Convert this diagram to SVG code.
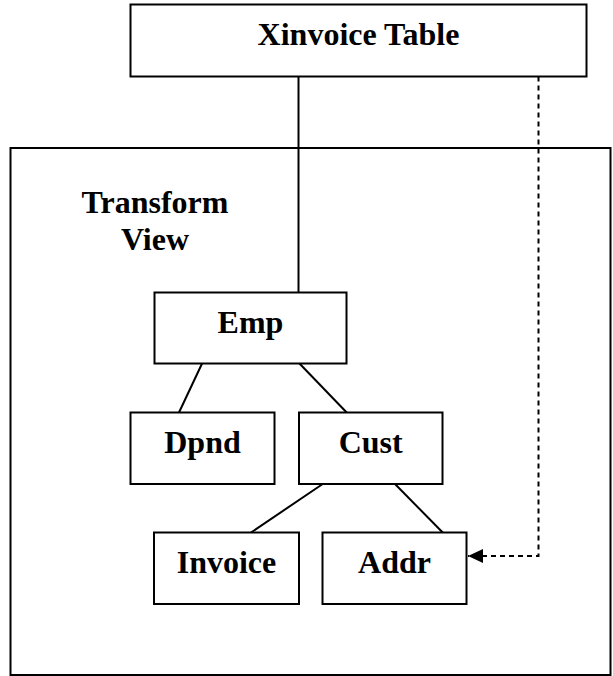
<svg xmlns="http://www.w3.org/2000/svg" width="613" height="676" viewBox="0 0 613 676">
<style>
.box{fill:#fff;stroke:#000;stroke-width:2}
.frame{fill:none;stroke:#000;stroke-width:2}
.lbl{font-family:"Liberation Serif","Times New Roman",serif;font-weight:bold;font-size:32px;fill:#000;text-anchor:middle}
.conn{stroke:#000;stroke-width:2;fill:none}
.dash{stroke:#000;stroke-width:2;fill:none;stroke-dasharray:5,4}
</style>
<defs>
<marker id="arr" markerUnits="userSpaceOnUse" markerWidth="16" markerHeight="14" refX="15" refY="7" orient="auto">
<path d="M0,0 L15,7 L0,14 Z" fill="#000"/>
</marker>
</defs>
<g id="transform-view">
<rect class="frame" x="10.5" y="148" width="600" height="527"/>
<text class="lbl" x="155" y="212.5">Transform</text>
<text class="lbl" x="155" y="249.5">View</text>
</g>
<g id="xinvoice">
<rect class="box" x="130.5" y="4.5" width="456" height="72"/>
<text class="lbl" x="358.5" y="45">Xinvoice Table</text>
</g>
<g id="connectors">
<line class="conn" x1="298.5" y1="76.5" x2="298.5" y2="292.5"/>
<line class="conn" x1="202.3" y1="363" x2="179" y2="412.5"/>
<line class="conn" x1="299" y1="363" x2="346.7" y2="412.5"/>
<line class="conn" x1="322.7" y1="484" x2="251" y2="532.5"/>
<line class="conn" x1="395" y1="484" x2="442.7" y2="532.5"/>
<path class="dash" d="M538.5,76.5 V556 H468" marker-end="url(#arr)"/>
</g>
<g id="emp">
<rect class="box" x="154.5" y="292.5" width="192" height="71"/>
<text class="lbl" x="250.5" y="333.3">Emp</text>
</g>
<g id="dpnd">
<rect class="box" x="130.5" y="412.5" width="144" height="71.5"/>
<text class="lbl" x="202.5" y="452.7">Dpnd</text>
</g>
<g id="cust">
<rect class="box" x="299" y="412.5" width="143.5" height="71.5"/>
<text class="lbl" x="370.7" y="452.7">Cust</text>
</g>
<g id="invoice">
<rect class="box" x="154" y="532.5" width="145" height="71.5"/>
<text class="lbl" x="226.5" y="572.7">Invoice</text>
</g>
<g id="addr">
<rect class="box" x="322.5" y="532.5" width="144" height="71.5"/>
<text class="lbl" x="394.5" y="572.7">Addr</text>
</g>
</svg>
